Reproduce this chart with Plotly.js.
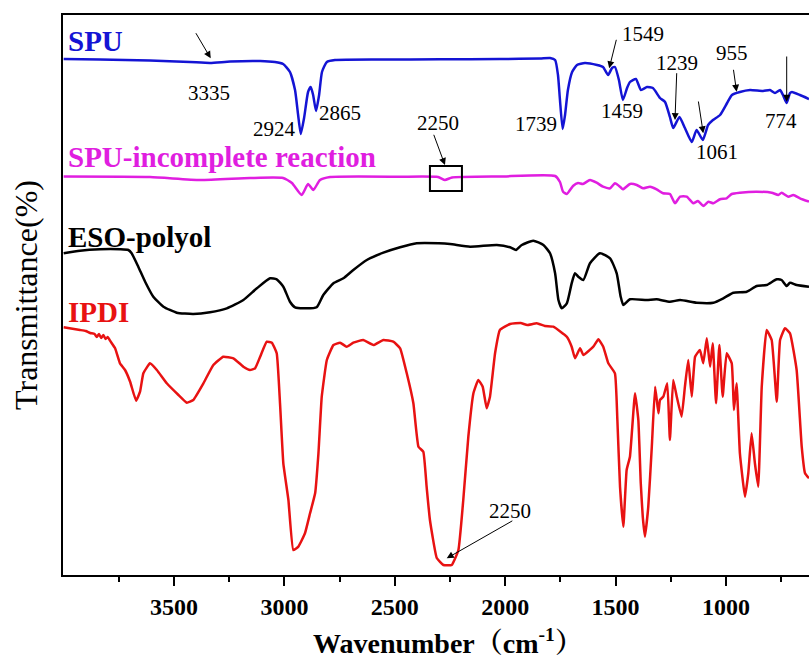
<!DOCTYPE html>
<html>
<head>
<meta charset="utf-8">
<script src="https://cdn.plot.ly/plotly-3.0.1.min.js"></script>
<style>html,body{margin:0;padding:0;background:#fff;}#chart{width:809px;height:662px;}</style>
</head>
<body>
<div id="chart"></div>
<script>
// ---- data (wavenumber in cm-1, transmittance in arbitrary offset units) ----
const spuWn = [4000,3835,3609,3428,3337, 3246,3110,3043,3006,2975, 2952,2938,2926,2911,2893, 2881,2870,2857,2843,2830,
  2808,2771,2567,2295,2024, 1842,1797,1774,1761,1752, 1740,1729,1716,1697,1675, 1639,1584,1557,1534,1516,
  1503,1485,1467,1448,1435, 1408,1385,1358,1331,1299, 1276,1254,1239,1211,1186, 1155,1133,1105,1081,1059,
  1027,995,973,937,891, 832,801,778,755,742, 725,710,701,665,624];
const spuT = [516,515.5,514.5,513,512, 513.5,514,513,511,503, 485,460,441,457,483, 488,480,464,480,503,
  513,515,515.5,515.7,516, 516.5,517,515,500,475, 446,460,485,503,510, 512,510,508,500,507,
  508,495,475,487,493, 496,485,488,487,477, 473,458,447,458,447, 433,445,435,450,455,
  460,472,480,483,485, 484,485,482,485,480, 472,482,483,480,476];

const incWn = [4000,3609,3382,3156,3006, 2966,2922,2893,2869,2839, 2793,2476,2304,2273,2241, 2024,1774,1752,1738,1721,
  1693,1670,1648,1616,1586, 1557,1525,1503,1480,1467, 1435,1404,1376,1344,1314, 1285,1254,1231,1208,1178,
  1148,1127,1103,1080,1057, 1027,997,974,937,861, 793,763,748,718,695, 665,624];
const incT = [398.5,398,395,397,397, 392,380,391,385,395, 398,398.3,398,395,397.5, 398.5,399,393,383.3,381,
  389,392,391,395,392.3, 388.3,386.7,391.7,388.3,385.7, 391,390,386.7,388.3,385.7, 381.7,381,371.7,378.3,378.3,
  371.7,374,369,373.3,371.7, 375.7,376.7,381,382.3,383.3, 382.3,380,382.3,378.3,380, 376.7,373.3];

const esoWn = [4000,3926,3835,3745,3707, 3692,3662,3631,3594,3548, 3488,3413,3337,3261,3186, 3125,3065,3035,3005,2975,
  2952,2914,2854,2824,2778, 2733,2688,2627,2552,2476, 2401,2300,2250,2159,2038, 1978,1951,1925,1873,1827,
  1797,1774,1759,1744,1721, 1699,1684,1669,1646,1616, 1571,1525,1495,1477,1465, 1435,1359,1314,1254,1208,
  1133,1057,1012,967,906, 861,816,770,748,725, 710,680,624];
const esoT = [321.7,324.3,325.7,325.7,325, 321.7,308.3,293.3,278.3,268.3, 262.3,261,262.7,266.7,275, 286.7,296.7,295.7,288.3,273.3,
  267.7,266.7,267.7,280,291.7, 296.7,305,315,322.3,327.7, 331.7,331.7,331,328.3,330, 327.7,325,330,334.3,330,
  321.7,301.7,275,266.7,271.7, 291.7,301.7,298.3,295,311.7, 321.7,316.7,301.7,278.3,270, 275.7,275,275.7,273.3,275,
  272.3,272.3,276.7,282.3,283.3, 289,290,295.7,295,289, 292.3,290,288.3];

const ipdiWn = [4000,3926,3900,3880,3860, 3850,3840,3830,3820,3810, 3800,3790,3767,3745,3722, 3699,3672,3654,3639,3609,
  3578,3533,3480,3442,3413, 3367,3322,3277,3231,3186, 3156,3133,3110,3080,3057, 3035,3020,3005,2982,2960,
  2937,2907,2884,2861,2846, 2831,2808,2778,2748,2718, 2688,2643,2597,2552,2507, 2476,2446,2416,2393,2371,
  2356,2341,2310,2280,2242, 2212,2190,2167,2144,2122, 2102,2084,2069,2046,2024, 1978,1930,1900,1857,1820,
  1782,1721,1699,1684,1661, 1646,1601,1578,1556,1533, 1503,1492,1480,1465,1450, 1435,1412,1397,1386,1377,
  1367,1352,1336,1321,1306, 1299,1284,1266,1254,1239, 1223,1201,1186,1171,1155, 1140,1118,1103,1087,1072,
  1060,1045,1030,1015,997, 974,964,952,937,914, 899,884,869,854,838, 816,793,770,755,733,
  710,680,657,642,624];
const ipdiT = [247.7,245,244,242,241, 238,241,237,240,236, 238,234.3,226.7,211.7,205, 193.3,174.3,183.3,201.7,211.7,
  205,191.7,180,172.3,175, 191.7,210,218.3,216.7,208.3, 205,206.7,218.3,233.3,232.3, 221.7,171.7,111.7,75,25,
  28.3,41.7,61.7,81.7,121.7, 178.3,215,230,232.3,228.3, 232.3,235,230,235,233.3, 226.7,201.7,171.7,128.3,123.3,
  88.3,55,17,10,10, 25,75,138.3,181.7,195, 188.3,166.7,178.3,221.7,245, 251,252,250,251.7,249,
  248.3,238.3,228.3,216.7,226.7, 220,228.3,235.7,228.3,211.7, 201.7,155,88.3,48.3,105, 118.3,181.7,155,91.7,58.3,
  38.3,68.3,128.3,188.3,161.7, 175,178.3,191.7,135,195, 178.3,158.3,188.3,215,178.3, 218.3,225,211.7,236.7,208.3,
  231.7,171.7,230,178.3,221.7, 211.7,165,191.7,121.7,78.3, 101.7,141.7,111.7,88.3,188.3, 245,235,173.3,235,246.7,
  241.7,205,128.3,101.7,96.7];

const seriesNames = ['SPU', 'SPU-incomplete reaction', 'ESO-polyol', 'IPDI'];
const seriesColors = ['#1414d4', '#e01ee0', '#000000', '#e81212'];
const tickVals = [3500, 3000, 2500, 2000, 1500, 1000];
const tickText = ['3500', '3000', '2500', '2000', '1500', '1000'];
const minorVals = [3750, 3250, 2750, 2250, 1750, 1250, 750];
const peakLabels = ['3335', '2924', '2865', '1739', '1549', '1459', '1239', '1061', '955', '774', '2250', '2250'];

const serif = 'Liberation Serif, Times New Roman, serif';
const xs = [spuWn, incWn, esoWn, ipdiWn];
const ys = [spuT, incT, esoT, ipdiT];
const traces = xs.map((x, i) => ({
  x: x, y: ys[i], type: 'scatter', mode: 'lines', name: seriesNames[i],
  line: {color: seriesColors[i], width: 2.5, shape: 'spline', smoothing: i === 3 ? 0.35 : 0.5}
}));

// label positions (layout only)
const labelPos = [[3341,482.5],[3047,446],[2748,462.5],[1861,451],[1378,541.5],[1473,464.5],
  [1222,512.5],[1041,423.5],[973,522.5],[751,454],[2304,452.5],[1980,64]];
const arrows = [[3334,516.7,3405,543.3],[1529,506.7,1495,536.7],[1231,455,1223,503.3],[1103,441.7,1126,475],
  [952,483.3,967,506.7],[725,473.3,725,520],[2273,410,2326,441.7],[2265,16.7,1961,55]];

const annotations = [];
peakLabels.forEach((t, i) => annotations.push({
  x: labelPos[i][0], y: labelPos[i][1], xref: 'x', yref: 'y', text: t, showarrow: false,
  xanchor: 'center', yanchor: 'middle', font: {family: serif, size: 21, color: '#000'}
}));
arrows.forEach(a => annotations.push({
  x: a[0], y: a[1], ax: a[2], ay: a[3], xref: 'x', yref: 'y', axref: 'x', ayref: 'y',
  text: '', showarrow: true, arrowhead: 2, arrowsize: 1.4, arrowwidth: 1, arrowcolor: '#000'
}));
const nameY = [534, 418, 338, 263];
seriesNames.forEach((n, i) => annotations.push({
  x: 0.004, y: nameY[i], xref: 'paper', yref: 'y', text: '<b>' + n + '</b>', showarrow: false,
  xanchor: 'left', yanchor: 'middle', font: {family: serif, size: 29, color: seriesColors[i]}
}));
annotations.push({
  x: (448 - 63) / 746, y: -0.118, xref: 'paper', yref: 'paper',
  text: '<b>Wavenumber（cm<sup>-1</sup>）</b>', showarrow: false, xanchor: 'center', yanchor: 'middle',
  font: {family: 'Liberation Serif, Noto Serif CJK SC, Noto Sans CJK SC, serif', size: 28, color: '#000'}
});

const layout = {
  width: 809, height: 662,
  margin: {l: 63, r: 0, t: 15, b: 87},
  paper_bgcolor: '#fff', plot_bgcolor: '#fff',
  showlegend: false,
  xaxis: {
    range: [4003, 624], tickmode: 'array', tickvals: tickVals, ticktext: tickText,
    ticks: 'outside', ticklen: 9, tickwidth: 2, tickcolor: '#000',
    showline: true, linewidth: 2, linecolor: '#000', mirror: true,
    showgrid: false, zeroline: false,
    tickfont: {family: serif, size: 24, color: '#000', weight: 'bold'},
    minor: {tickmode: 'array', tickvals: minorVals, ticks: 'outside', ticklen: 5, tickwidth: 2, tickcolor: '#000', showgrid: false}
  },
  yaxis: {
    range: [0, 560], showticklabels: false, ticks: '',
    showline: true, linewidth: 2, linecolor: '#000', showgrid: false, zeroline: false,
    title: {text: 'Transmittance(%)', font: {family: serif, size: 32, color: '#000'}, standoff: 14}
  },
  shapes: [{type: 'rect', xref: 'x', yref: 'y', x0: 2341, x1: 2196, y0: 384, y1: 409,
    line: {color: '#000', width: 2}}],
  annotations: annotations
};

Plotly.newPlot('chart', traces, layout, {displayModeBar: false, staticPlot: true});
</script>
</body>
</html>
